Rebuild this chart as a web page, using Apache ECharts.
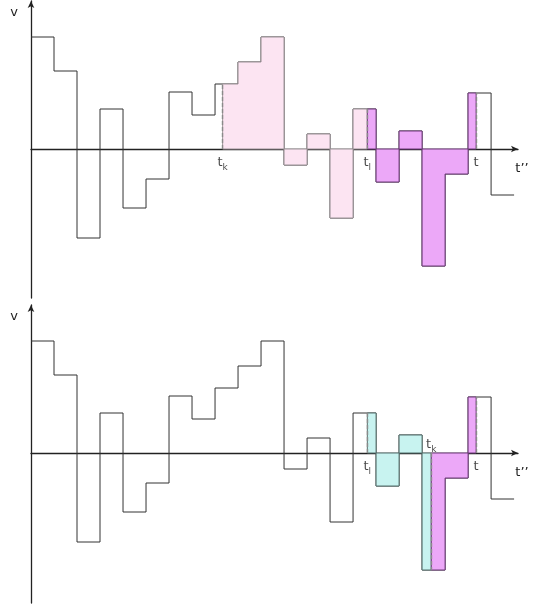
<!DOCTYPE html>
<html><head><meta charset="utf-8">
<script src="https://cdn.jsdelivr.net/npm/echarts@6/dist/echarts.min.js"></script>
<style>html,body{margin:0;padding:0;background:#fff}#c{width:543px;height:610px}</style>
</head><body><div id="c"></div>
<script>
// step values, one per unit interval [i, i+1]
const values = [112, 78, -89, 40, -59, -30, 57, 34, 65, 87, 112, -16, 15, -69, 40, -33, 18, -117, -25, 56, -46];
// marked times (in interval units)
const topMarks = [8.33, 14.62, 19.35];
const topMarkNames = ['k', 'l', ''];
const topLabelSide = ['bottom', 'bottom', 'bottom'];
const bottomMarks = [14.62, 17.4, 19.35];
const bottomMarkNames = ['l', 'k', ''];
const bottomLabelSide = ['bottom', 'top', 'bottom'];
// shaded regions: [start, end, colour key]
const topRegions = [[8.33, 14.62, 'pink'], [14.62, 19.35, 'magenta']];
const bottomRegions = [[14.62, 17.4, 'cyan'], [17.4, 19.35, 'magenta']];

const FONT = 'DejaVu Sans';
const fills = {
  pink: {fill: '#fce4f2', stroke: '#9d9499'},
  magenta: {fill: '#eca8f8', stroke: '#6e3a7a'},
  cyan: {fill: '#c8f3f0', stroke: '#55716f'}
};

function stepData() {
  const d = values.map((v, i) => [i, v]);
  d.push([values.length, values[values.length - 1]]);
  return d;
}
function valueAt(t) { return values[Math.floor(t)]; }
// outline of the area under the step function between a and b, in data units
function regionOutline(a, b) {
  const pts = [[a, 0], [a, valueAt(a)]];
  for (let k = Math.floor(a) + 1; k < b; k++) {
    pts.push([k, values[k - 1]]);
    pts.push([k, values[k]]);
  }
  pts.push([b, valueAt(b - 1e-9)]);
  pts.push([b, 0]);
  return pts;
}

const grids = [{left: 31, right: 25, top: 1, height: 297}, {left: 31, right: 25, top: 305, height: 298}];
const yRanges = [[-149, 148], [-150, 148]];

const xAxes = grids.map((g, gi) => ({
  type: 'value', gridIndex: gi, min: 0, max: 21.17,
  axisLine: {onZero: true, symbol: ['none', 'arrow'], symbolSize: [5, 7], lineStyle: {color: '#222', width: 1.3}},
  axisTick: {show: false}, axisLabel: {show: false}, splitLine: {show: false},
  name: 't\u2019\u2019', nameLocation: 'end', nameGap: 4,
  nameTextStyle: {fontFamily: FONT, fontSize: 13, color: '#222', align: 'center', verticalAlign: 'top', padding: [13, 0, 0, 0]}
}));
const yAxes = grids.map((g, gi) => ({
  type: 'value', gridIndex: gi, min: yRanges[gi][0], max: yRanges[gi][1],
  axisLine: {show: true, symbol: ['none', 'arrow'], symbolSize: [5, 7], lineStyle: {color: '#222', width: 1.3}},
  axisTick: {show: false}, axisLabel: {show: false}, splitLine: {show: false},
  name: 'v', nameLocation: 'end', nameGap: -18,
  nameTextStyle: {fontFamily: FONT, fontSize: 13, color: '#222', align: 'right', padding: [0, 13, 0, 0]}
}));

const series = [];
[[topRegions, topMarks, topMarkNames, topLabelSide], [bottomRegions, bottomMarks, bottomMarkNames, bottomLabelSide]].forEach(([regions, marks, names, sides], gi) => {
  series.push({
    type: 'line', xAxisIndex: gi, yAxisIndex: gi, step: 'end', data: stepData(),
    symbol: 'none', lineStyle: {color: '#333', width: 1}, z: 2, silent: true, animation: false
  });
  series.push({
    type: 'custom', xAxisIndex: gi, yAxisIndex: gi, z: 3, silent: true, animation: false,
    data: regions.map(r => [r[0], r[1]]),
    renderItem: function (params, api) {
      const r = regions[params.dataIndex];
      const pts = regionOutline(r[0], r[1]).map(p => api.coord(p));
      const c = fills[r[2]];
      return {type: 'polygon', shape: {points: pts}, style: {fill: c.fill, stroke: c.stroke, lineWidth: 1}};
    }
  });
  series.push({
    type: 'line', xAxisIndex: gi, yAxisIndex: gi, data: [], z: 4, silent: true, animation: false,
    markLine: {
      symbol: 'none', silent: true, animation: false, label: {show: false},
      lineStyle: {color: '#8a8a8a', type: [4, 2], width: 1.4},
      data: marks.map(t => [{coord: [t, 0]}, {coord: [t, valueAt(t)]}])
    }
  });
  series.push({
    type: 'scatter', xAxisIndex: gi, yAxisIndex: gi, symbolSize: 0, z: 5, silent: true, animation: false,
    data: marks.map((t, i) => ({
      value: [t, 0],
      label: {
        show: true, position: sides[i], distance: sides[i] === 'top' ? 2 : 7,
        formatter: names[i] ? '{a|t}{b|' + names[i] + '}' : '{a|t}',
        rich: {
          a: {fontFamily: FONT, fontSize: 13, lineHeight: 13, color: '#1a1a1a', verticalAlign: 'top'},
          b: {fontFamily: FONT, fontSize: 9, lineHeight: 9, color: '#1a1a1a', verticalAlign: 'top', padding: [7, 0, 0, 0]}
        }
      }
    }))
  });
});

const chart = echarts.init(document.getElementById('c'), null, {renderer: 'canvas'});
chart.setOption({animation: false, grid: grids, xAxis: xAxes, yAxis: yAxes, series: series});
</script></body></html>
